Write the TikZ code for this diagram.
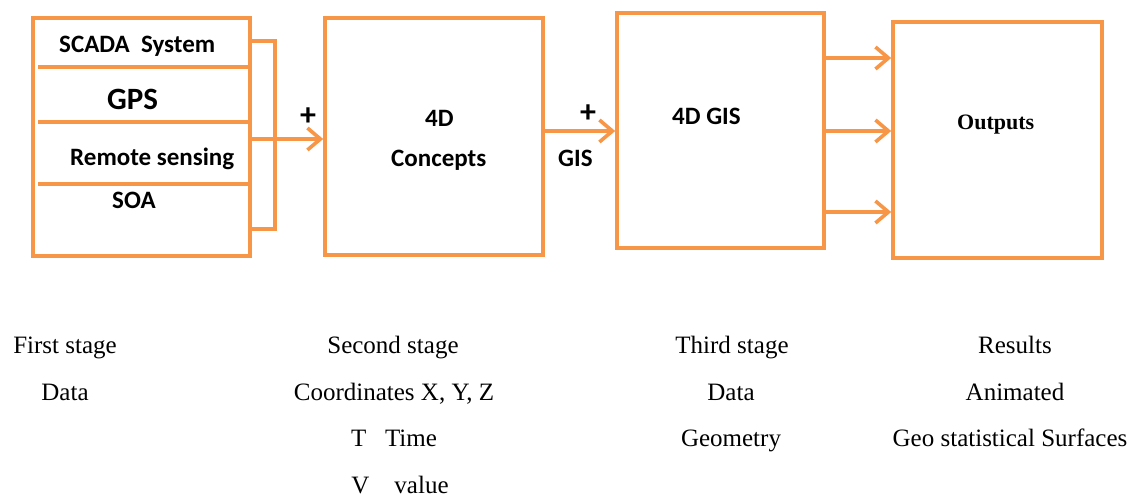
\documentclass[tikz,border=0pt]{standalone}
\usepackage{fontspec}
\setmainfont{Liberation Serif}
\newfontfamily\boxfont{Carlito}
\usetikzlibrary{arrows.meta}
\definecolor{flow}{RGB}{247,150,70}
\tikzset{
  line/.style={draw=flow, line width=3.6pt},
  stagebox/.style={line, rectangle, inner sep=0pt, fill=white},
  arr/.style={line, -{Straight Barb[length=13pt, width=22pt, line width=3.6pt]}},
  boxtxt/.style={font=\boxfont\bfseries\fontsize{25}{30}\selectfont, inner sep=0pt, anchor=base west},
  plus/.style={font=\boxfont\bfseries\fontsize{32}{36}\selectfont, inner sep=0pt},
  caption/.style={font=\fontsize{25}{30}\selectfont, inner sep=0pt, anchor=base}
}
\begin{document}
\begin{tikzpicture}[x=1pt, y=-1pt]
\useasboundingbox (0,0) rectangle (1148,497);

% four stage boxes
\node[stagebox, minimum width=217pt, minimum height=238pt] (src) at (141.5,137) {};
\node[stagebox, minimum width=218pt, minimum height=237pt] (concept) at (434,136.5) {};
\node[stagebox, minimum width=207pt, minimum height=235pt] (gis) at (720.5,130.5) {};
\node[stagebox, minimum width=209pt, minimum height=236pt] (out) at (997.5,140) {};

% rows of the data-source box
\coordinate (r1) at (38,67);
\coordinate (r2) at (38,122);
\coordinate (r3) at (38,184);
\draw[line] (r1) -- (src.east |- r1);
\draw[line] (r2) -- (src.east |- r2);
\draw[line] (r3) -- (src.east |- r3);

\node[boxtxt] (scada) at (59,53) {SCADA\ \ System};
\node[boxtxt, font=\boxfont\bfseries\fontsize{31}{36}\selectfont] (gps) at (107,110) {GPS};
\node[boxtxt] (rs) at (70,166) {Remote sensing};
\node[boxtxt] (soa) at (112,208) {SOA};

% bracket collecting the sources
\coordinate (bt) at (0,41);
\coordinate (bb) at (0,229);
\draw[line] (src.east |- bt) -- ++(23,0) |- (src.east |- bb);

% connectors between stages
\coordinate (a1) at (0,139);
\coordinate (a2) at (0,131);
\coordinate (o1) at (0,58);
\coordinate (o2) at (0,131);
\coordinate (o3) at (0,212);
\draw[arr] (src.east |- a1) -- (concept.west |- a1);
\draw[arr] (concept.east |- a2) -- (gis.west |- a2);
\draw[arr] (gis.east |- o1) -- (out.west |- o1);
\draw[arr] (gis.east |- o2) -- (out.west |- o2);
\draw[arr] (gis.east |- o3) -- (out.west |- o3);

\node[plus] (p1) at (308,117) {+};
\node[plus] (p2) at (588,114) {+};
\node[boxtxt] (gislbl) at (558,167) {GIS};

% box labels
\node[boxtxt] (c4d) at (425,127) {4D};
\node[boxtxt] (cc) at (391,167) {Concepts};
\node[boxtxt] (g4d) at (672,125) {4D GIS};
\node[inner sep=0pt, anchor=base west, font=\bfseries\fontsize{22}{26}\selectfont] (outlbl) at (957,130) {Outputs};

% stage descriptions
\node[caption] (s1a) at (65,353) {First stage};
\node[caption] (s1b) at (65,400) {Data};
\node[caption] (s2a) at (393,353) {Second stage};
\node[caption] (s2b) at (394,400) {Coordinates X, Y, Z};
\node[caption] (s2c) at (394,446) {T\ \ \ Time};
\node[caption] (s2d) at (400,493) {V\ \ \ \ value};
\node[caption] (s3a) at (732,353) {Third stage};
\node[caption] (s3b) at (731,400) {Data};
\node[caption] (s3c) at (731,446) {Geometry};
\node[caption] (s4a) at (1015,353) {Results};
\node[caption] (s4b) at (1015,400) {Animated};
\node[caption] (s4c) at (1010,446) {Geo statistical Surfaces};
\end{tikzpicture}
\end{document}
